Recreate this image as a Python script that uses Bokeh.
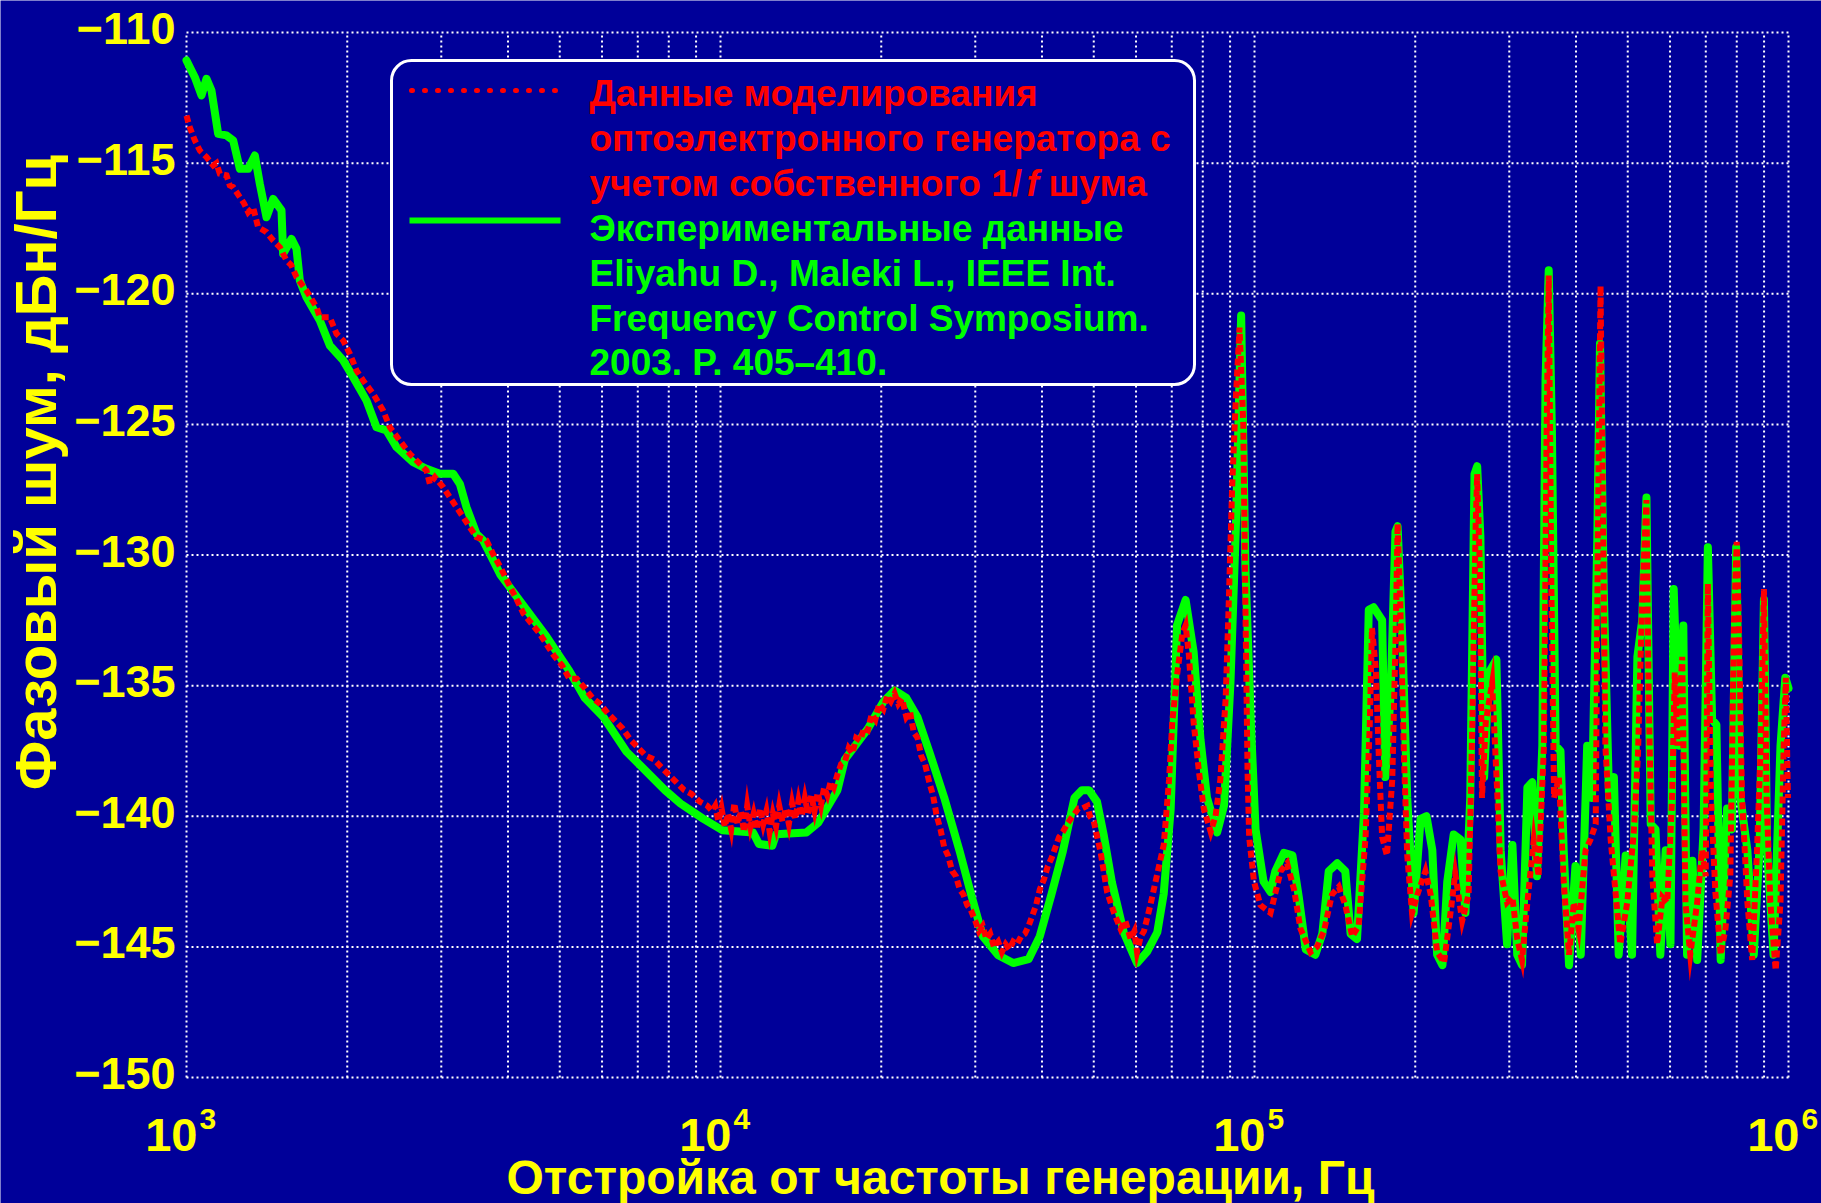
import numpy as np
from bokeh.plotting import figure
from bokeh.models import Label, BoxAnnotation, Arrow
from bokeh.embed import file_html
from bokeh.resources import INLINE

# ---------------- data ----------------
# frequency given as log10(Hz), phase noise in dBc/Hz
green_log10_hz = [
    3.000, 3.0156, 3.0281, 3.0375, 3.0468, 3.0593, 3.0749, 3.0874, 3.0999, 3.1155,
    3.128, 3.1373, 3.1498, 3.1623, 3.1779, 3.181, 3.1966, 3.206, 3.2122, 3.2247,
    3.2497, 3.2684, 3.2934, 3.3121, 3.3371, 3.3558, 3.3745, 3.3933, 3.4245, 3.4494,
    3.4744, 3.4994, 3.5119, 3.5243, 3.5431, 3.5556, 3.588, 3.631, 3.674, 3.717,
    3.746, 3.781, 3.824, 3.860, 3.896, 3.925, 3.968, 4.004, 4.061, 4.072,
    4.097, 4.104, 4.161, 4.183, 4.219, 4.233, 4.276, 4.305, 4.326, 4.348,
    4.369, 4.391, 4.419, 4.448, 4.469, 4.491, 4.52, 4.548, 4.577, 4.598,
    4.62, 4.641, 4.663, 4.677, 4.69, 4.705, 4.718, 4.733, 4.755, 4.78,
    4.799, 4.818, 4.83, 4.843, 4.855, 4.871, 4.886, 4.899, 4.911, 4.93,
    4.943, 4.955, 4.965, 4.975, 4.983, 4.993, 5.002, 5.017, 5.03, 5.039,
    5.055, 5.071, 5.083, 5.096, 5.114, 5.127, 5.139, 5.155, 5.17, 5.18,
    5.192, 5.205, 5.214, 5.223, 5.239, 5.245, 5.255, 5.264, 5.268, 5.277,
    5.286, 5.298, 5.311, 5.322, 5.333, 5.342, 5.352, 5.361, 5.373, 5.386,
    5.395, 5.404, 5.412, 5.417, 5.423, 5.43, 5.439, 5.453, 5.461, 5.473,
    5.483, 5.492, 5.501, 5.511, 5.52, 5.529, 5.539, 5.545, 5.551, 5.557,
    5.564, 5.573, 5.579, 5.589, 5.601, 5.611, 5.623, 5.632, 5.642, 5.647,
    5.654, 5.664, 5.673, 5.682, 5.695, 5.707, 5.717, 5.726, 5.734, 5.742,
    5.751, 5.76, 5.77, 5.779, 5.785, 5.795, 5.803, 5.81, 5.82, 5.829,
    5.841, 5.849, 5.857, 5.865, 5.873, 5.885, 5.894, 5.902, 5.91, 5.923,
    5.935, 5.946, 5.954, 5.96, 5.972, 5.985, 5.994, 6.0,
]
green_db = [
    -111.07, -111.71, -112.41, -111.77, -112.22, -113.88, -113.94, -114.13, -115.22, -115.22,
    -114.71, -115.79, -117.07, -116.37, -116.81, -118.47, -117.90, -118.28, -119.49, -120.13,
    -121.02, -121.98, -122.55, -123.19, -124.09, -125.11, -125.23, -125.87, -126.45, -126.70,
    -126.89, -126.89, -127.28, -128.17, -129.19, -129.44, -130.76, -131.94, -133.12, -134.44,
    -135.47, -136.21, -137.53, -138.26, -139.0, -139.51, -140.10, -140.54, -140.62, -141.06,
    -141.13, -140.69, -140.62, -140.25, -139.0, -137.82, -136.65, -135.62, -135.18, -135.47,
    -136.21, -137.53, -139.29, -141.35, -142.97, -144.59, -145.32, -145.62, -145.47, -144.59,
    -142.97, -141.35, -139.29, -139.0, -139.0, -139.44, -140.76, -142.53, -144.44, -145.62,
    -145.18, -144.44, -142.97, -139.74, -132.68, -131.72, -133.71, -137.09, -139.29, -140.62,
    -139.59, -134.88, -129.0, -120.83, -130.47, -136.35, -140.5, -142.5, -142.9, -142.1,
    -141.4, -141.5, -143.1, -145.1, -145.3, -144.5, -142.1, -141.8, -142.1, -144.5,
    -144.7, -139.9, -132.1, -132.0, -132.5, -138.5, -135.3, -129.1, -128.9, -133.3,
    -139.3, -143.7, -140.1, -140.0, -141.3, -145.3, -145.7, -142.5, -140.7, -140.9,
    -143.7, -139.3, -126.9, -126.6, -129.3, -138.5, -134.5, -134.0, -141.3, -144.9,
    -141.1, -145.3, -145.7, -138.9, -138.7, -142.3, -137.3, -123.3, -119.1, -125.3,
    -137.3, -137.5, -141.3, -145.7, -141.9, -145.3, -137.3, -139.3, -129.3, -121.9,
    -131.3, -139.3, -138.5, -145.3, -141.5, -145.3, -133.9, -132.5, -127.8, -140.3,
    -140.5, -145.3, -141.3, -144.9, -131.3, -137.3, -132.7, -145.3, -141.7, -145.5,
    -140.5, -129.7, -136.3, -136.5, -145.5, -139.7, -140.5, -129.7, -139.3, -141.3,
    -145.3, -141.1, -131.7, -141.3, -145.3, -137.3, -134.7, -135.1,
]

red_log10_hz = [
    3.000, 3.006, 3.0156, 3.025, 3.0375, 3.05, 3.056, 3.0624, 3.075, 3.081,
    3.0874, 3.0999, 3.108, 3.1155, 3.1248, 3.134, 3.1498, 3.1623, 3.1748, 3.1873,
    3.196, 3.206, 3.2247, 3.2434, 3.2497, 3.2684, 3.2809, 3.2934, 3.3059, 3.3184,
    3.3308, 3.3496, 3.3683, 3.3808, 3.3995, 3.4182, 3.437, 3.4494, 3.4557, 3.465,
    3.4806, 3.4931, 3.5056, 3.518, 3.5306, 3.543, 3.5618, 3.575, 3.588, 3.602,
    3.617, 3.631, 3.645, 3.66, 3.674, 3.688, 3.703, 3.717, 3.731, 3.746,
    3.76, 3.774, 3.789, 3.803, 3.817, 3.832, 3.846, 3.86, 3.875, 3.889,
    3.903, 3.918, 3.932, 3.946, 3.961, 3.975, 3.984,
    3.990, 3.996, 4.002, 4.008, 4.014, 4.020, 4.026, 4.032, 4.038, 4.044,
    4.050, 4.056, 4.062, 4.068, 4.074, 4.080, 4.086, 4.092, 4.098, 4.104,
    4.110, 4.116, 4.122, 4.128, 4.134, 4.140, 4.146, 4.152, 4.158, 4.164,
    4.170, 4.176, 4.182, 4.188, 4.194, 4.200, 4.206, 4.212, 4.219, 4.226,
    4.233, 4.240, 4.247, 4.254, 4.262, 4.269, 4.276, 4.283, 4.29, 4.297,
    4.305, 4.312, 4.319, 4.326, 4.333, 4.340, 4.348, 4.355, 4.362, 4.369,
    4.376, 4.383, 4.391, 4.398, 4.405, 4.412, 4.419, 4.426, 4.434, 4.441,
    4.448, 4.455, 4.462, 4.469, 4.477, 4.484, 4.491, 4.498, 4.505, 4.512,
    4.52, 4.527, 4.534, 4.541, 4.548, 4.555, 4.563, 4.570, 4.577, 4.584,
    4.591, 4.598, 4.606, 4.613, 4.62, 4.627, 4.634, 4.641, 4.649, 4.656,
    4.663, 4.670, 4.677, 4.687, 4.692, 4.699, 4.712, 4.724, 4.737, 4.749,
    4.758, 4.768, 4.775, 4.78, 4.787, 4.793, 4.805, 4.818, 4.83, 4.84,
    4.846, 4.855, 4.865, 4.871, 4.877, 4.886, 4.896, 4.905, 4.918, 4.927,
    4.936, 4.946, 4.952, 4.958, 4.965, 4.972, 4.979, 4.983, 4.987, 4.99,
    4.999, 5.011, 5.03, 5.049, 5.061, 5.074, 5.086, 5.105, 5.117, 5.13,
    5.145, 5.158, 5.17, 5.183, 5.195, 5.208, 5.216, 5.22, 5.227, 5.233,
    5.239, 5.248, 5.258, 5.264, 5.268, 5.273, 5.28, 5.286, 5.295, 5.305,
    5.32, 5.33, 5.342, 5.355, 5.367, 5.376, 5.389, 5.401, 5.408, 5.414,
    5.417, 5.422, 5.426, 5.433, 5.445, 5.455, 5.4607, 5.473, 5.483, 5.492,
    5.501, 5.511, 5.523, 5.532, 5.542, 5.547, 5.551, 5.556, 5.561, 5.57,
    5.579, 5.589, 5.598, 5.607, 5.62, 5.629, 5.639, 5.643, 5.648, 5.652,
    5.657, 5.667, 5.676, 5.685, 5.698, 5.71, 5.718, 5.726, 5.734, 5.738,
    5.745, 5.754, 5.764, 5.773, 5.782, 5.787, 5.792, 5.801, 5.807, 5.816,
    5.829, 5.838, 5.845, 5.849, 5.855, 5.863, 5.873, 5.882, 5.891, 5.898,
    5.903, 5.907, 5.913, 5.923, 5.932, 5.941, 5.948, 5.954, 5.959, 5.966,
    5.976, 5.985, 5.991, 5.995, 5.999,
]
red_db = [
    -113.18, -113.62, -114.13, -114.52, -114.77, -115.09, -115.0, -115.41, -115.47, -115.85,
    -115.92, -116.3, -116.55, -116.88, -116.69, -117.45, -117.64, -117.96, -118.22, -118.73,
    -118.9, -119.37, -119.88, -120.51, -120.9, -120.9, -121.53, -121.79, -122.3, -122.94,
    -123.32, -123.83, -124.47, -125.11, -125.62, -126.13, -126.51, -126.77, -127.28, -127.02,
    -127.4, -127.79, -128.17, -128.55, -128.94, -129.32, -129.44, -130.0, -130.47, -131.06,
    -131.65, -132.24, -132.6, -132.97, -133.41, -133.85, -134.22, -134.74, -134.74, -135.1,
    -135.47, -135.69, -136.06, -136.35, -136.65, -137.09, -137.38, -137.68, -137.82, -138.12,
    -138.41, -138.71, -139.0, -139.15, -139.44, -139.59, -139.8,
    -139.6, -140.2, -139.7, -140.4, -139.9, -140.5, -139.5, -140.3, -139.8, -140.6,
    -139.6, -140.4, -139.9, -140.5, -139.7, -140.3, -139.8, -140.6, -139.9, -140.4,
    -139.6, -140.2, -139.7, -140.3, -139.5, -140.1, -139.4, -140.0, -139.3, -139.9,
    -139.2, -139.8, -139.1, -139.6, -138.9, -139.2, -138.7, -138.9, -138.4, -138.0,
    -137.9, -137.4, -137.6, -137.0, -137.1, -136.6, -136.7, -136.1, -136.3, -135.7,
    -135.9, -135.4, -135.6, -135.3, -135.7, -135.5, -136.2, -136.0, -136.8, -137.0,
    -137.7, -138.0, -138.7, -139.2, -140.0, -140.5, -141.2, -141.5, -142.1, -142.3,
    -142.8, -143.0, -143.4, -143.6, -144.0, -144.4, -144.2, -144.7, -144.5, -145.0,
    -144.8, -145.2, -144.9, -145.1, -144.8, -144.9, -144.6, -144.5, -144.2, -143.8,
    -143.4, -142.8, -142.4, -141.9, -141.6, -141.2, -140.8, -140.6, -140.3, -140.1,
    -139.9, -139.7, -139.7, -139.6, -140.0, -140.2, -141.4, -142.9, -143.7, -144.3,
    -144.0, -144.7, -144.4, -145.2, -144.6, -144.4, -143.4, -142.2, -141.1, -138.6,
    -136.4, -134.6, -133.0, -132.7, -133.8, -136.4, -138.3, -139.7, -140.6, -140.0,
    -138.6, -135.5, -131.7, -127.5, -124.0, -121.3, -125.0, -132.0, -138.3, -140.8,
    -142.5, -143.4, -143.7, -142.1, -141.8, -142.8, -144.3, -145.2, -145.0, -144.4,
    -143.0, -142.7, -143.4, -144.6, -144.2, -140.8, -136.4, -132.8, -134.3, -137.8,
    -140.8, -141.5, -138.6, -133.4, -128.8, -131.9, -137.8, -141.5, -143.7, -143.0,
    -142.1, -143.0, -145.2, -145.6, -143.7, -142.2, -144.0, -143.0, -136.4, -129.0,
    -126.9, -130.5, -139.3, -136.4, -134.9, -139.3, -142.1, -143.3, -143.1, -144.7,
    -145.5, -143.3, -140.9, -142.3, -137.3, -125.3, -119.3, -131.3, -139.3, -138.5,
    -142.5, -145.3, -143.3, -144.3, -141.3, -140.9, -140.3, -129.3, -119.7, -127.3,
    -137.3, -140.9, -142.9, -144.9, -143.3, -140.7, -137.7, -131.7, -127.9, -135.3,
    -142.3, -144.9, -143.1, -143.3, -139.3, -134.5, -137.3, -133.9, -143.3, -145.3,
    -143.3, -141.3, -142.3, -131.1, -139.3, -142.9, -145.3, -144.3, -142.3, -132.5,
    -129.5, -132.5, -139.3, -143.3, -145.5, -141.3, -137.3, -131.3, -139.3, -143.3,
    -145.9, -143.3, -137.3, -134.7, -139.3,
]

y_ticks = [-150, -145, -140, -135, -130, -125, -120, -115, -110]
x_decades = [3, 4, 5, 6]
x_grid_ticks = [m * 10 ** d for d in (3, 4, 5) for m in range(1, 10)] + [10 ** 6]

x_title = "Отстройка от частоты генерации, Гц"
y_title = "Фазовый шум, дБн/Гц"
legend_red_lines = ["Данные моделирования", "оптоэлектронного генератора с"]
legend_red_line3 = ["учетом собственного 1/", "f", "шума"]
legend_green_lines = ["Экспериментальные данные",
                      "Eliyahu D., Maleki L., IEEE Int.",
                      "Frequency Control Symposium.",
                      "2003. P. 405\u2013410."]

# ---------------- layout ----------------
W, H = 1821, 1203
PL, PR, PT, PB = 186, 33, 32, 126          # plot-box margins in pixels
FW, FH = W - PL - PR, H - PT - PB
XLO, XHI = 3, 6                            # decades shown in the plot box
YLO, YHI = -150, -110
x_lo = 10 ** (XLO - (XHI - XLO) * PL / FW)
x_hi = 10 ** (XHI + (XHI - XLO) * PR / FW)
y_lo = YLO - (YHI - YLO) * PB / FH
y_hi = YHI + (YHI - YLO) * PT / FH

BG = "#000099"
YEL = "#FFFF00"
RED = "#FF0000"
GRN = "#00FF00"
FONT = "Liberation Sans"

p = figure(width=W, height=H, x_axis_type="log",
           x_range=(x_lo, x_hi), y_range=(y_lo, y_hi),
           output_backend="svg", toolbar_location=None,
           min_border=0, min_border_left=0, min_border_right=0,
           min_border_top=0, min_border_bottom=0,
           background_fill_color=BG, border_fill_color=BG,
           outline_line_color=None)
p.xaxis.visible = False
p.yaxis.visible = False
p.grid.visible = False

# dotted grid inside the plot box (also forms the box)
n_x = len(x_grid_ticks)
p.segment(x0=x_grid_ticks, y0=[YLO] * n_x, x1=x_grid_ticks, y1=[YHI] * n_x,
          line_color="white", line_width=2, line_dash="2 3")
n_y = len(y_ticks)
p.segment(x0=[10 ** XLO] * n_y, y0=y_ticks, x1=[10 ** XHI] * n_y, y1=y_ticks,
          line_color="white", line_width=2, line_dash="2 3")

gx = 10 ** np.array(green_log10_hz)
rx = 10 ** np.array(red_log10_hz)
p.line(gx, green_db, line_color=GRN, line_width=8, line_join="round", line_cap="round")
p.line(rx, red_db, line_color=RED, line_width=6, line_dash="7 4", line_join="miter")

# y tick labels
for t in y_ticks:
    p.add_layout(Label(x=10 ** XLO, y=t, x_offset=-11, y_offset=4,
                       text="\u2212" + str(abs(t)), text_align="right", text_baseline="middle",
                       text_font=FONT, text_font_style="bold", text_font_size="45px",
                       text_color=YEL))
# x tick labels 10^k
for d in x_decades:
    p.add_layout(Label(x=10 ** d, y=YLO, x_offset=11, y_offset=-57,
                       text="10", text_align="right", text_baseline="alphabetic",
                       text_font=FONT, text_font_style="bold", text_font_size="47px",
                       text_color=YEL))
    p.add_layout(Label(x=10 ** d, y=YLO, x_offset=13, y_offset=-41,
                       text=str(d), text_align="left", text_baseline="alphabetic",
                       text_font=FONT, text_font_style="bold", text_font_size="30px",
                       text_color=YEL))

# axis titles (screen units: from canvas left / bottom)
p.add_layout(Label(x=940, y=H - 1177, x_units="screen", y_units="screen",
                   text=x_title, text_align="center", text_baseline="alphabetic",
                   text_font=FONT, text_font_style="bold", text_font_size="48px",
                   text_color=YEL))
p.add_layout(Label(x=35, y=H - 472, x_units="screen", y_units="screen", angle=np.pi / 2,
                   text=y_title, text_align="center", text_baseline="middle",
                   text_font=FONT, text_font_style="bold", text_font_size="58px",
                   text_color=YEL))

# legend box
p.add_layout(BoxAnnotation(left=391, right=1194, top=H - 60, bottom=H - 384,
                           left_units="screen", right_units="screen",
                           top_units="screen", bottom_units="screen",
                           fill_color=BG, fill_alpha=1.0, line_color="white",
                           line_width=3, line_alpha=1.0, border_radius=20))
p.add_layout(Arrow(end=None, x_start=411, y_start=H - 90, x_end=561, y_end=H - 90,
                   start_units="screen", end_units="screen",
                   line_color=RED, line_width=5, line_dash="1 12", line_cap="round"))
p.add_layout(Arrow(end=None, x_start=409, y_start=H - 220, x_end=560, y_end=H - 220,
                   start_units="screen", end_units="screen",
                   line_color=GRN, line_width=6))

centers = [93, 138, 183, 228, 273, 318, 362]
TX = 589
LEG_FS = "37px"
for i, t in enumerate(legend_red_lines):
    p.add_layout(Label(x=TX, y=H - centers[i], x_units="screen", y_units="screen",
                       text=t, text_align="left", text_baseline="middle",
                       text_font=FONT, text_font_style="bold", text_font_size=LEG_FS,
                       text_color=RED))
for t, dx, st in zip(legend_red_line3, [0, 437, 459], ["bold", "bold italic", "bold"]):
    p.add_layout(Label(x=TX + dx, y=H - centers[2], x_units="screen", y_units="screen",
                       text=t, text_align="left", text_baseline="middle",
                       text_font=FONT, text_font_style=st, text_font_size=LEG_FS,
                       text_color=RED))
for i, t in enumerate(legend_green_lines):
    p.add_layout(Label(x=TX, y=H - centers[3 + i], x_units="screen", y_units="screen",
                       text=t, text_align="left", text_baseline="middle",
                       text_font=FONT, text_font_style="bold", text_font_size=LEG_FS,
                       text_color=GRN))

open("out.html", "w").write(file_html(p, INLINE))
